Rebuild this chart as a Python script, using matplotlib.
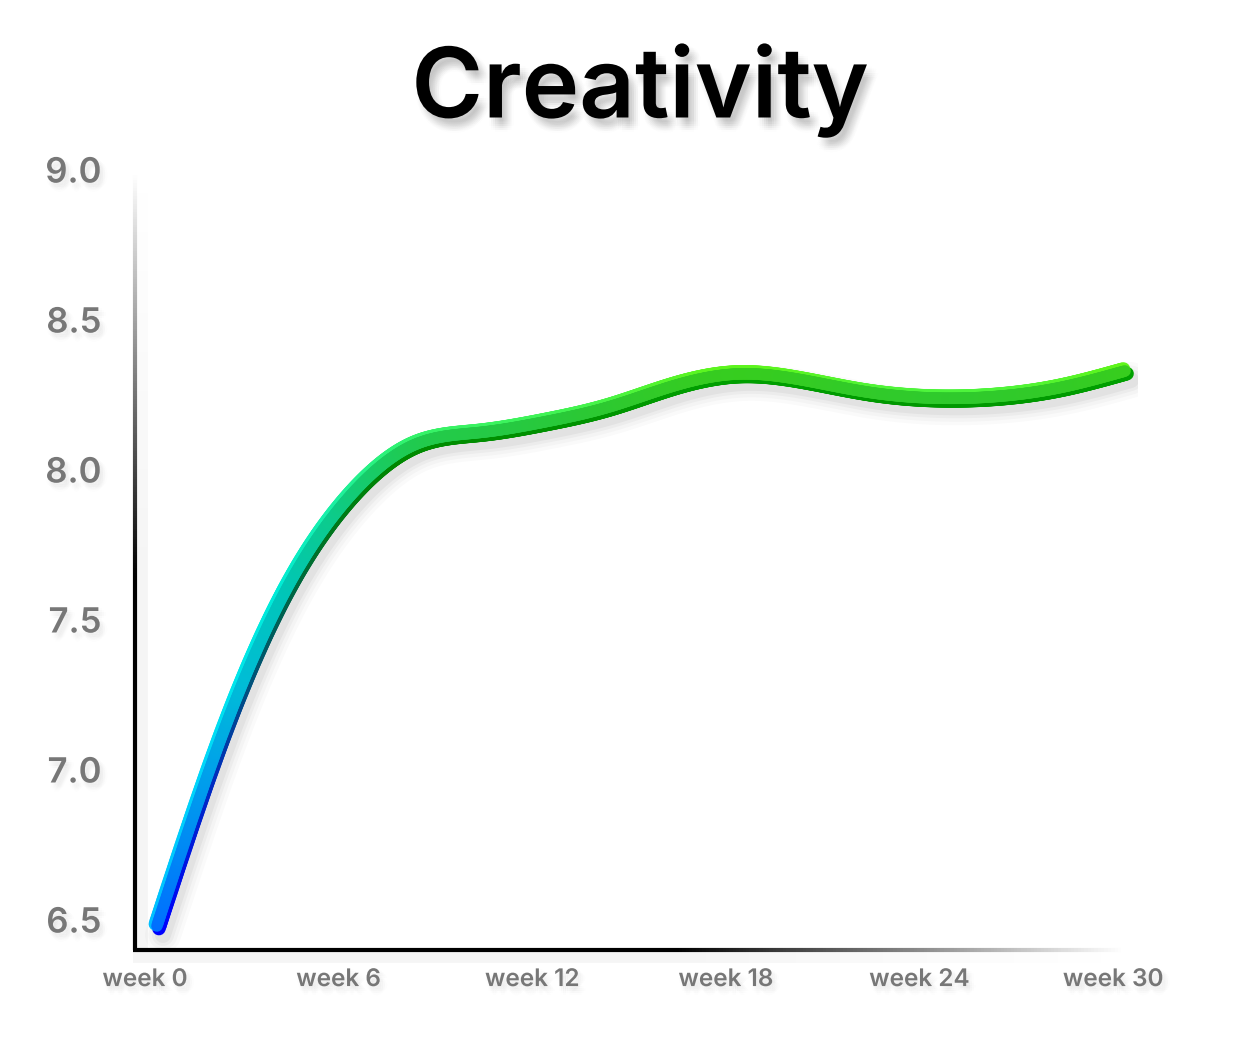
import numpy as np
import matplotlib
matplotlib.use('Agg')
import matplotlib.pyplot as plt
from matplotlib.collections import LineCollection
from matplotlib import patheffects as pe
from matplotlib.transforms import ScaledTranslation

# ---------------- data ----------------
title = "Creativity"
weeks = [0, 2, 4, 6, 8, 10, 12, 14, 16, 18, 20, 22, 24, 26, 28, 30]
scores = [6.48, 7.11, 7.60, 7.915, 8.085, 8.125, 8.16, 8.21, 8.28, 8.32, 8.30,
          8.26, 8.24, 8.245, 8.275, 8.33]
xtick_weeks = [0, 6, 12, 18, 24, 30]
xtick_labels = ["week 0", "week 6", "week 12", "week 18", "week 24", "week 30"]
yticks = [6.5, 7.0, 7.5, 8.0, 8.5, 9.0]
ytick_labels = ["6.5", "7.0", "7.5", "8.0", "8.5", "9.0"]

# colour stops along value axis (main / light edge / dark edge)
stop_vals = [6.48, 7.0, 7.3, 7.6, 7.85, 8.05, 8.2, 8.33]
main_cols = [(0, 110, 255), (0, 160, 235), (0, 188, 215), (0, 198, 185), (12, 203, 140),
             (28, 203, 90), (44, 200, 50), (55, 205, 30)]
light_cols = [(0, 190, 255), (0, 215, 250), (0, 230, 235), (0, 236, 215), (25, 240, 170),
              (45, 242, 120), (70, 243, 75), (95, 245, 25)]
dark_cols = [(0, 0, 255), (0, 45, 190), (0, 80, 125), (0, 100, 70), (0, 120, 25),
             (0, 135, 0), (0, 148, 0), (0, 160, 0)]


def natural_spline(x, y, xs):
    x = np.asarray(x, float)
    y = np.asarray(y, float)
    n = len(x)
    h = np.diff(x)
    A = np.zeros((n, n))
    r = np.zeros(n)
    A[0, 0] = 1
    A[-1, -1] = 1
    for i in range(1, n - 1):
        A[i, i - 1] = h[i - 1]
        A[i, i] = 2 * (h[i - 1] + h[i])
        A[i, i + 1] = h[i]
        r[i] = 3 * ((y[i + 1] - y[i]) / h[i] - (y[i] - y[i - 1]) / h[i - 1])
    c = np.linalg.solve(A, r)
    b = (y[1:] - y[:-1]) / h - h * (2 * c[:-1] + c[1:]) / 3
    d = (c[1:] - c[:-1]) / (3 * h)
    idx = np.clip(np.searchsorted(x, xs, side='right') - 1, 0, n - 2)
    t = xs - x[idx]
    return y[idx] + b[idx] * t + c[idx] * t ** 2 + d[idx] * t ** 3


def colours_for(vals, cols):
    cols = np.array(cols, float) / 255.0
    return np.stack([np.interp(vals, stop_vals, cols[:, k]) for k in range(3)], axis=1)


def blur_shadow(dx, dy, radius, n, alpha, color='black'):
    effects = []
    for ox in np.linspace(-radius, radius, n):
        for oy in np.linspace(-radius, radius, n):
            if ox ** 2 + oy ** 2 <= radius ** 2 + 1e-9:
                effects.append(pe.SimplePatchShadow(offset=(dx + ox, dy + oy),
                                                    shadow_rgbFace=color, alpha=alpha))
    effects.append(pe.Normal())
    return effects


plt.rcParams['font.family'] = ['Inter', 'DejaVu Sans']

W, H = 1235, 1058
fig = plt.figure(figsize=(W / 100, H / 100), dpi=100)
fig.patch.set_facecolor('white')

ax_left, ax_right, ax_bottom, ax_top = 135, 1138, 950, 170
ax = fig.add_axes([ax_left / W, 1 - ax_bottom / H, (ax_right - ax_left) / W, (ax_bottom - ax_top) / H])
ax.set_xlim(-0.68, 30.4)
ax.set_ylim(6.4, 9.0)
for s in ax.spines.values():
    s.set_visible(False)
ax.set_facecolor('none')

# ---- spines drawn as gradients ----
N = 300
ys = np.linspace(0, 1, N + 1)
segs = [[(0, ys[i]), (0, ys[i + 1])] for i in range(N)]
mid = (ys[:-1] + ys[1:]) / 2
g = np.clip((mid - 0.48) / (0.995 - 0.48), 0, 1)
cols = np.stack([g, g, g], axis=1)
sh = LineCollection(segs, colors=[(0, 0, 0, 0.04 * (1 - gg)) for gg in g], linewidths=10,
                    transform=ax.transAxes + ScaledTranslation(4 / 72, 0, fig.dpi_scale_trans), clip_on=False)
ax.add_collection(sh)
lc = LineCollection(segs, colors=cols, linewidths=3.0, transform=ax.transAxes, clip_on=False, capstyle='butt')
ax.add_collection(lc)

xs_ = np.linspace(-0.002, 1, N + 1)
segs = [[(xs_[i], 0), (xs_[i + 1], 0)] for i in range(N)]
mid = (xs_[:-1] + xs_[1:]) / 2
g = np.clip((mid - 0.54) / (0.985 - 0.54), 0, 1)
cols = np.stack([g, g, g], axis=1)
sh = LineCollection(segs, colors=[(0, 0, 0, 0.04 * (1 - gg)) for gg in g], linewidths=10,
                    transform=ax.transAxes + ScaledTranslation(0, -4 / 72, fig.dpi_scale_trans), clip_on=False)
ax.add_collection(sh)
lc = LineCollection(segs, colors=cols, linewidths=3.0, transform=ax.transAxes, clip_on=False, capstyle='butt')
ax.add_collection(lc)

# ---- ticks ----
ax.set_yticks(yticks)
ax.set_yticklabels(ytick_labels)
ax.set_xticks(xtick_weeks)
ax.set_xticklabels(xtick_labels)
ax.tick_params(axis='both', length=0)
ax.tick_params(axis='y', pad=24, labelsize=25, labelcolor='#777777')
ax.tick_params(axis='x', pad=13, labelsize=17.5, labelcolor='#777777')
for lab in ax.get_yticklabels():
    lab.set_fontweight('semibold')
    lab.set_path_effects(blur_shadow(2.5, -3.5, 3, 5, 0.006))
for lab in ax.get_xticklabels():
    lab.set_fontweight('semibold')
    lab.set_path_effects(blur_shadow(2.5, -3.5, 3, 5, 0.006))
    lab.set_transform(lab.get_transform() + ScaledTranslation(-12 / 100, 0, fig.dpi_scale_trans))

# ---- curve ----
xx = np.linspace(weeks[0], weeks[-1], 900)
yy = natural_spline(weeks, scores, xx)
pts = np.column_stack([xx, yy])
segs = np.stack([pts[:-1], pts[1:]], axis=1)
segv = (yy[:-1] + yy[1:]) / 2

px = 72 / 100.0  # points per pixel


def offset_tr(dxp, dyp):
    return ax.transData + ScaledTranslation(dxp / 100, dyp / 100, fig.dpi_scale_trans)


# drop shadow
for lw_px, a in [(36, 0.02), (29, 0.025), (22, 0.03), (16, 0.04)]:
    ax.plot(xx, yy, color='black', alpha=a, lw=lw_px * px, solid_capstyle='round',
            transform=offset_tr(6, -9), zorder=2)

main_w = 13.5 * px
dark = LineCollection(segs, colors=colours_for(segv, dark_cols), linewidths=main_w,
                      capstyle='round', joinstyle='round', transform=offset_tr(2.0, -2.6), zorder=3)
light = LineCollection(segs, colors=colours_for(segv, light_cols), linewidths=main_w,
                       capstyle='round', joinstyle='round', transform=offset_tr(-1.6, 2.0), zorder=4)
main = LineCollection(segs, colors=colours_for(segv, main_cols), linewidths=main_w - 2.0 * px,
                      capstyle='round', joinstyle='round', transform=offset_tr(0, 0), zorder=5)
ax.add_collection(dark)
ax.add_collection(light)
ax.add_collection(main)

# ---- title ----
fig.text(640 / W, 1 - 90 / H, title, ha='center', va='center', fontsize=70, fontweight='semibold',
         color='black', path_effects=blur_shadow(4, -6, 4.5, 7, 0.009))

fig.savefig('out.png', dpi=100, facecolor='white')
